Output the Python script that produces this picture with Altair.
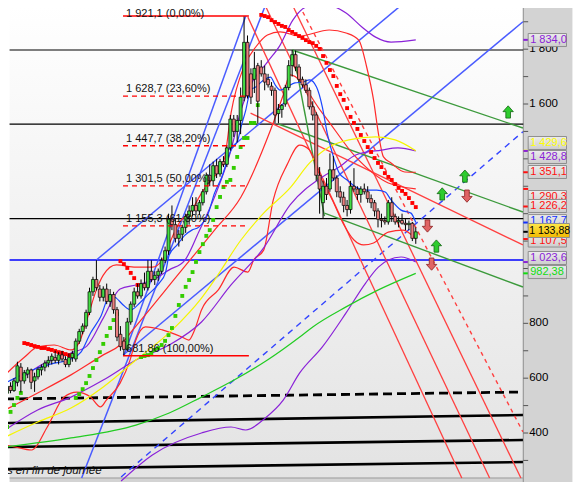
import altair as alt
import pandas as pd

# ---------------- candles (weekly index, price) ----------------
opens = [545,570,555,585,640,590,615,630,590,605,630,640,655,665,675,665,685,668,650,675,
         670,735,770,790,840,915,960,925,895,925,880,905,850,760,735,705,805,870,915,900,
         945,930,990,960,975,990,1030,1065,1180,1160,1110,1125,1150,1190,1210,1230,1210,1240,1280,1340,
         1320,1375,1345,1390,1380,1440,1545,1500,1540,1625,1825,1710,1690,1740,1735,1710,1690,1665,1650,1565,
         1580,1600,1660,1740,1780,1735,1690,1670,1650,1590,1560,1340,1240,1300,1290,1360,1330,1280,1260,1230,
         1215,1300,1290,1270,1290,1280,1255,1240,1210,1180,1175,1170,1240,1190,1170,1175,1165,1160,1165,1110]
highs = [580,585,600,660,655,630,640,635,620,640,650,665,680,690,700,695,700,680,690,700,
         745,780,800,850,930,970,1030,940,935,945,925,915,860,790,750,820,880,930,945,960,
         985,1030,1030,990,1000,1040,1080,1200,1230,1180,1140,1160,1200,1230,1260,1260,1250,1290,1350,1380,
         1390,1400,1400,1410,1450,1560,1560,1560,1660,1921.1,1850,1730,1790,1750,1760,1740,1710,1680,1660,1600,
         1600,1670,1760,1797,1795,1745,1700,1690,1660,1610,1570,1370,1320,1330,1420,1410,1340,1300,1280,1250,
         1320,1366,1300,1300,1310,1300,1270,1250,1220,1200,1190,1250,1260,1200,1190,1200,1180,1175,1170,1150]
lows = [520,545,550,570,548,580,600,560,550,595,610,625,640,650,655,650,660,640,640,660,
        660,725,760,780,830,900,920,880,880,870,860,835,735,700,681.86,700,795,860,890,890,
        920,920,950,940,955,980,1020,1050,1140,1095,1080,1100,1130,1160,1190,1195,1195,1230,1270,1300,
        1300,1330,1335,1370,1370,1430,1480,1460,1490,1610,1620,1600,1640,1530,1700,1650,1660,1630,1530,1530,
        1550,1590,1650,1700,1720,1680,1660,1640,1580,1540,1320,1200,1184,1250,1280,1320,1260,1240,1205,1190,
        1200,1280,1250,1240,1270,1240,1220,1190,1150,1150,1160,1160,1170,1160,1150,1160,1140,1140,1100,1090]
closes = [570,555,590,645,590,620,630,585,605,632,640,655,665,680,665,685,670,650,675,690,
          735,770,790,840,915,960,930,895,925,880,905,850,750,715,705,805,870,915,900,945,
          930,990,960,975,990,1030,1065,1180,1160,1110,1125,1150,1190,1210,1230,1210,1240,1280,1340,1320,
          1375,1345,1390,1380,1440,1545,1500,1540,1625,1825,1630,1625,1730,1610,1710,1680,1670,1650,1560,1580,
          1595,1660,1740,1780,1735,1690,1670,1650,1590,1560,1340,1290,1300,1270,1360,1330,1280,1260,1230,1215,
          1300,1290,1270,1290,1280,1255,1240,1210,1180,1175,1170,1240,1190,1170,1175,1165,1160,1165,1110,1133.88]

# ---------------- parabolic SAR ----------------
sar_green = [(0,422),(1,477),(2,502),(3,528),(4,546),
             (20,528),(21,542),(22,560),(23,582),(24,608),(25,637),(26,666),(27,695),(28,725),(29,754),(30,783),(31,812),(32,834),
             (39,677),(40,681),(41,684),(42,692),(43,703),(44,710),(45,721),(46,736),(47,757),(48,783),(49,827),(50,867),
             (51,900),(52,933),(53,958),(54,987),(55,1024),(56,1060),(57,1089),(58,1119),(59,1140),(60,1177),(61,1224),
             (62,1261),(63,1297),(64,1316),(65,1323),(66,1367),(67,1407),(68,1443),(69,1476),(70,1476),(71,1531),(72,1531),(73,1596)]
sar_red = [(5,728),(6,725),(7,721),(8,717),(9,714),(10,710),(11,710),(12,706),(13,703),(14,699),(15,695),(16,692),(17,688),(18,684),(19,681),
           (33,1027),(34,1016),(35,1002),(36,984),(37,965),(38,940),
           (74,1925),(75,1921),(76,1917),(77,1906),(78,1899),(79,1892),(80,1885),(81,1881),(82,1870),(83,1863),(84,1855),
           (85,1848),(86,1841),(87,1833),(88,1826),(89,1822),(90,1812),(91,1801),(92,1775),(93,1750),(94,1724),(95,1702),
           (96,1666),(97,1636),(98,1615),(99,1585),(100,1553),(101,1531),(102,1509),(103,1487),(104,1465),(105,1443),
           (106,1425),(107,1403),(108,1385),(109,1370),(110,1348),(111,1334),(112,1323),(113,1308),(114,1294),(115,1283),
           (116,1272),(117,1257),(118,1239),(119,1224)]

# ---------------- indicator curves ----------------
blue_ma = [(-0.6,582),(4.3,612),(8.9,637),(12.9,652),(18.6,670),(21.5,695),(24.3,765),(27.2,823),(30.0,903),(31.8,892),
           (33.8,867),(36.0,849),(38.6,874),(40.9,903),(44.3,947),(46.1,984),(47.2,1049),(49.5,1086),(51.8,1122),(53.8,1140),
           (55.8,1151),(58.6,1202),(60.4,1275),(62.4,1330),(65.2,1432),(67.2,1469),(68.1,1516),(69.5,1578),(70.9,1651),
           (72.4,1662),(74.7,1688),(76.7,1698),(78.1,1669),(79.5,1651),(81.5,1662),(83.8,1677),(86.1,1680),(88.1,1688),
           (90.1,1662),(91.8,1589),(93.2,1494),(94.7,1421),(96.7,1348),(99.0,1323),(101.5,1297),(104.4,1286),(107.6,1286),
           (110.1,1279),(111.8,1250),(114.7,1213),(117.6,1202),(119.0,1167.7)]
yellow_ma = [(-0.6,385),(8.9,440),(18.6,491),(28.0,568),(37.5,666),(48.1,776),(56.6,892),(60.4,958),(68.1,1104),
             (74.7,1202),(82.4,1294),(88.1,1385),(93.8,1443),(99.5,1469),(107.3,1480),(113.0,1469),(119.0,1429.6)]
green_ma = [(-0.6,349),(18.6,382),(37.5,429),(47.2,473),(56.6,531),(66.1,593),(75.8,666),(85.2,750),(89.0,787),
            (98.7,860),(108.1,922),(119.0,982.38)]
purple_up = [(-0.6,550),(8.9,641),(18.6,692),(23.2,717),(28.0,819),(32.9,925),(37.5,940),(42.3,958),(47.2,995),
             (51.8,1031),(55.8,1133),(60.4,1261),(65.2,1432),(68.1,1578),(70.9,1669),(75.8,1753),(79.5,1815),(83.2,1906),
             (87.2,1954),(93.0,1961),(98.7,1932),(103.3,1881),(107.3,1844),(111.8,1826),(119.0,1834.0)]
purple_mid = [(-0.6,411),(8.9,484),(18.6,531),(28.0,593),(37.5,666),(47.2,721),(56.6,805),(65.2,940),(74.7,1075),
              (82.4,1232),(91.8,1334),(96.7,1370),(101.5,1414),(109.0,1432),(113.8,1440),(119.0,1428.8)]
purple_low = [(33.2,225),(42.3,320),(56.6,400),(65.2,422),(69.5,411),(75.2,455),(80.4,520),(85.2,619),(91.8,714),
              (98.7,838),(104.4,947),(108.1,1005),(111.0,1031),(114.7,1042),(119.0,1023.6)]
red_up = [(-0.6,612),(5.1,677),(8.9,714),(13.7,721),(18.6,703),(20.9,728),(23.2,812),(26.0,922),(28.0,976),(31.8,1013),
          (37.5,1005),(42.3,1005),(45.2,1031),(48.1,1115),(50.1,1166),(53.8,1213),(56.6,1275),(59.5,1323),(63.2,1396),
          (65.2,1567),(68.9,1735),(72.4,1808),(75.8,1852),(79.5,1863),(85.2,1848),(93.8,1870),(98.7,1859),(102.4,1833),
          (104.7,1735),(106.7,1615),(108.1,1494),(109.6,1407),(111.8,1385),(115.8,1352),(119.0,1351.1)]
red_mid = [(-0.6,484),(8.9,546),(18.6,612),(28.0,685),(32.9,721),(36.6,776),(50.9,995),(60.4,1140),(68.1,1261),
           (76.7,1505),(80.4,1633),(82.4,1706),(91.8,1567),(101.5,1407),(111.0,1312),(119.0,1290.3)]
red_low = [(-0.6,356),(2.3,349),(7.1,338),(11.7,422),(16.6,531),(20.3,549),(24.3,531),(27.2,495),(28.9,520),(32.9,582),
           (35.8,666),(37.5,739),(40.3,787),(45.2,776),(50.9,750),(52.9,739),(54.6,776),(56.6,849),(61.5,922),(66.1,1005),
           (70.1,987),(71.8,1031),(74.7,1067),(77.5,1250),(81.5,1378),(85.2,1450),(88.1,1432),(91.0,1341),(94.7,1250),
           (98.1,1159),(101.0,1104),(103.8,1086),(106.7,1093),(111.0,1133),(115.3,1140),(119.0,1107.5)]

# ---------------- drawn lines (index1, price1, index2, price2) ----------------
black_levels = [1797, 1527, 1182]
blue_level = 1031
black_thick = [(-0.6,436.5,150.2,465.7),(-0.6,349,150.2,374.5),(-0.6,268.7,150.2,294.2)]
black_dashed = [(-0.6,524,150.2,549.5)]
blue_lines = [(21.7,236,75.8,1979),(34.0,681.86,69.5,1921.1),(33.8,684.5,150.2,1900),(26.0,1031,117.6,1990)]
blue_dashed = [(33.2,239.6,150.2,1499)]
red_lines = [(70.1,1917,132.4,236),(74.4,1979,140.5,236),(82.4,1979,149.6,236),(70.9,1567,150.2,1086)]
red_dashed = [(86.1,1935.6,150.2,404)]
green_lines = [(83.0,1797,150.2,1512.5),(79.0,1527,150.2,1206),(92.4,1202,150.2,932.5),(83.2,1797,92.4,1191.5)]

# ---------------- Fibonacci retracement ----------------
fib_levels = [1921.1, 1628.7, 1447.7, 1301.5, 1155.3, 681.86]
fib_labels = ["1 921,1 (0,00%)", "1 628,7 (23,60%)", "1 447,7 (38,20%)", "1 301,5 (50,00%)",
              "1 155,3 (61,80%)", "681,86 (100,00%)"]
fib_start, fib_end = 33.75, 70.4

# ---------------- signal arrows ----------------
arrows_up = [(145.9,1571),(133.3,1337),(126.7,1272),(125.0,1082)]
arrows_down = [(133.9,1264),(122.4,1155),(123.6,1016)]

# ---------------- right scale ----------------
tick_values = [300,400,500,600,700,800,900,1000,1100,1200,1300,1400,1500,1600,1700,1800,1900]
tick_labels = {400:"400",600:"600",800:"800",1600:"1 600",1800:"1 800"}
box_texts = ["1 834,0","1 429,6","1 428,8","1 351,1","1 290,3","1 226,2","1 167,7","1 107,5","1 023,6","982,38"]
box_values = [1834.0,1429.6,1428.8,1351.1,1290.3,1226.2,1167.7,1107.5,1023.6,982.38]
box_centers = [1833.4,1457.8,1406.7,1352.0,1260.8,1228.0,1173.0,1102.0,1038.3,987.0]
box_colors = ["#8a22d8","#ffff00","#8a22d8","#ff1010","#ff1010","#ff1010","#1030ff","#ff1010","#8a22d8","#10dd10"]
last_text, last_value, last_center = "1 133,88", 1133.88, 1138.6

# ---------------- geometry of the frame ----------------
W, H = 566, 474
X_MIN = 1.716
X_MAX = X_MIN + W / 3.496
Y_MIN, Y_MAX = 221.3, 1950.2
PLOT_RIGHT = 150.3
PLOT_BOTTOM = 235.9
PX = (X_MAX - X_MIN) / W   # index units per pixel
PY = (Y_MAX - Y_MIN) / H   # price units per pixel

xs = alt.Scale(domain=[X_MIN, X_MAX], nice=False, zero=False)
ys = alt.Scale(domain=[Y_MIN, Y_MAX], nice=False, zero=False)
X = lambda f: alt.X(f, type="quantitative", scale=xs, axis=None)
Y = lambda f: alt.Y(f, type="quantitative", scale=ys, axis=None)

layers = []

# background
bg = pd.DataFrame([{"x": X_MIN - 1, "x2": PLOT_RIGHT, "y": PLOT_BOTTOM, "y2": Y_MAX + 10}])
layers.append(alt.Chart(bg).mark_rect(fill=alt.Gradient(gradient="linear",
        stops=[alt.GradientStop(color="#ffffff", offset=0), alt.GradientStop(color="#e3e3e3", offset=1)],
        x1=0, x2=0, y1=0, y2=1)).encode(x=X("x"), x2="x2", y=Y("y"), y2="y2"))
panel = pd.DataFrame([{"x": PLOT_RIGHT, "x2": X_MAX + 1, "y": Y_MIN - 10, "y2": Y_MAX + 10},
                      {"x": X_MIN - 1, "x2": PLOT_RIGHT, "y": Y_MIN - 10, "y2": PLOT_BOTTOM}])
layers.append(alt.Chart(panel).mark_rect(fill="#d3d3d3").encode(x=X("x"), x2="x2", y=Y("y"), y2="y2"))
edge = pd.DataFrame([{"x": PLOT_RIGHT, "y": Y_MIN - 10, "y2": Y_MAX + 10}])
layers.append(alt.Chart(edge).mark_rule(color="#8c8c8c", strokeWidth=1).encode(x=X("x"), y=Y("y"), y2="y2"))
edge2 = pd.DataFrame([{"x": X_MIN - 1, "x2": PLOT_RIGHT, "y": PLOT_BOTTOM}])
layers.append(alt.Chart(edge2).mark_rule(color="#9a9a9a", strokeWidth=1).encode(x=X("x"), x2="x2", y=Y("y")))


def seg_df(segs):
    return pd.DataFrame([{"x": a, "y": b, "x2": c, "y2": d} for a, b, c, d in segs])


def seg_layer(segs, color, width, dash=None):
    kw = dict(color=color, strokeWidth=width, clip=True)
    if dash:
        kw["strokeDash"] = dash
    return alt.Chart(seg_df(segs)).mark_rule(**kw).encode(x=X("x"), y=Y("y"), x2="x2", y2="y2")


hsegs = [(X_MIN - 1, v, PLOT_RIGHT, v) for v in black_levels]
layers.append(seg_layer(hsegs, "#000000", 1.2))
layers.append(seg_layer([(X_MIN - 1, blue_level, PLOT_RIGHT, blue_level)], "#0000ff", 1.3))
layers.append(seg_layer(black_thick, "#000000", 2.6))
layers.append(seg_layer(black_dashed, "#000000", 2.8, [9, 5]))
layers.append(seg_layer(blue_lines, "#4a5cff", 1.5))
layers.append(seg_layer(blue_dashed, "#3344ff", 1.4, [6, 5]))
layers.append(seg_layer(red_lines, "#ff4040", 1.3))
layers.append(seg_layer(red_dashed, "#ff4040", 1.4, [4, 4]))
layers.append(seg_layer(green_lines, "#3c9a3c", 1.4))

# indicator curves
curves = [("red_low", red_low, "#ff2a2a"), ("red_mid", red_mid, "#ff2a2a"), ("red_up", red_up, "#ff2a2a"),
          ("purple_low", purple_low, "#8a22d8"), ("purple_mid", purple_mid, "#8a22d8"), ("purple_up", purple_up, "#8a22d8"),
          ("green_ma", green_ma, "#22cc22"), ("yellow_ma", yellow_ma, "#f5f500"), ("blue_ma", blue_ma, "#1a46ff")]
rows = []
for name, pts, col in curves:
    for k, (i, p) in enumerate(pts):
        rows.append({"name": name, "i": i, "p": p, "col": col, "k": k})
cdf = pd.DataFrame(rows)
layers.append(alt.Chart(cdf).mark_line(interpolate="monotone", strokeWidth=1.2, clip=True).encode(
    x=X("i"), y=Y("p"), detail="name:N", order="k:Q", color=alt.Color("col:N", scale=None)))

# parabolic SAR
sar = pd.DataFrame([{"i": i, "p": p, "col": "#33cc00"} for i, p in sar_green] +
                   [{"i": i, "p": p, "col": "#ff0000"} for i, p in sar_red])
layers.append(alt.Chart(sar).mark_square(size=15, opacity=1, clip=True).encode(
    x=X("i"), y=Y("p"), color=alt.Color("col:N", scale=None)))

# candles
cd = pd.DataFrame({"i": list(range(len(closes))), "o": opens, "h": highs, "l": lows, "c": closes})
cd["col"] = ["#44dd44" if c >= o else "#ec7f7f" for o, c in zip(opens, closes)]
layers.append(alt.Chart(cd).mark_rule(color="#000000", strokeWidth=1, clip=True).encode(
    x=X("i"), y=Y("l"), y2="h"))
layers.append(alt.Chart(cd).mark_bar(size=3, stroke="#000000", strokeWidth=0.7, clip=True, orient="vertical").encode(
    x=X("i"), y=Y("o"), y2="c", fill=alt.Color("col:N", scale=None)))

# Fibonacci
fib = pd.DataFrame({"x": [fib_start] * 6, "x2": [fib_end] * 6, "y": fib_levels, "label": fib_labels,
                    "solid": [True, False, False, False, False, True]})
layers.append(alt.Chart(fib[fib.solid]).mark_rule(color="#ff0000", strokeWidth=1.3).encode(
    x=X("x"), x2="x2", y=Y("y")))
layers.append(alt.Chart(fib[~fib.solid]).mark_rule(color="#ff0000", strokeWidth=1.3, strokeDash=[5, 4]).encode(
    x=X("x"), x2="x2", y=Y("y")))
layers.append(alt.Chart(fib.iloc[1:]).mark_text(align="left", baseline="bottom", dx=3, dy=-2, font="Liberation Sans",
                                                fontSize=11, color="#111111").encode(x=X("x"), y=Y("y"), text="label:N"))
# top label sits against the upper edge of the frame
layers.append(alt.Chart(fib.iloc[:1]).mark_text(align="left", baseline="top", dx=3, dy=-7.5, font="Liberation Sans",
                                                fontSize=11, color="#111111").encode(x=X("x"), y=Y("y"), text="label:N"))

# arrows
up_path = "M0,-1 L0.85,-0.05 L0.38,-0.05 L0.38,1 L-0.38,1 L-0.38,-0.05 L-0.85,-0.05 Z"
down_path = "M0,1 L0.85,0.05 L0.38,0.05 L0.38,-1 L-0.38,-1 L-0.38,0.05 L-0.85,0.05 Z"
layers.append(alt.Chart(pd.DataFrame(arrows_up, columns=["i", "p"])).mark_point(
    shape=up_path, size=150, filled=True, fill="#2ecc2e", stroke="#116611", strokeWidth=0.8, opacity=1).encode(
    x=X("i"), y=Y("p")))
layers.append(alt.Chart(pd.DataFrame(arrows_down, columns=["i", "p"])).mark_point(
    shape=down_path, size=150, filled=True, fill="#e06464", stroke="#8a2020", strokeWidth=0.8, opacity=1).encode(
    x=X("i"), y=Y("p")))

# right scale ticks and labels
tk = pd.DataFrame({"y": tick_values})
tk["x"] = PLOT_RIGHT
tk["x2"] = PLOT_RIGHT + 5 * PX
layers.append(alt.Chart(tk).mark_rule(color="#555555", strokeWidth=1).encode(x=X("x"), x2="x2", y=Y("y")))
tl = pd.DataFrame({"y": list(tick_labels.keys()), "t": list(tick_labels.values())})
tl["x"] = PLOT_RIGHT + 6 * PX
layers.append(alt.Chart(tl).mark_text(align="left", baseline="middle", font="Liberation Sans", fontSize=11.5,
                                      color="#000000").encode(x=X("x"), y=Y("y"), text="t:N"))

# value boxes
bx = pd.DataFrame({"t": box_texts, "v": box_values, "c": box_centers, "col": box_colors})
bx["x"] = PLOT_RIGHT + 5 * PX
bx["x2"] = PLOT_RIGHT + 44 * PX
bx["y"] = bx["c"] - 6.5 * PY
bx["y2"] = bx["c"] + 6.5 * PY
bx["tx"] = PLOT_RIGHT
bx["tx2"] = PLOT_RIGHT + 5 * PX
box_fill = alt.Gradient(gradient="linear", stops=[alt.GradientStop(color="#ececec", offset=0),
                                                   alt.GradientStop(color="#cdcdcd", offset=1)],
                        x1=0, x2=0, y1=0, y2=1)
for k in range(len(bx)):
    row = bx.iloc[[k]]
    layers.append(alt.Chart(row).mark_rule(strokeWidth=2).encode(
        x=X("tx"), x2="tx2", y=Y("v"), color=alt.Color("col:N", scale=None)))
    layers.append(alt.Chart(row).mark_rect(fill=box_fill, stroke="#8f8f8f", strokeWidth=1).encode(
        x=X("x"), x2="x2", y=Y("y"), y2="y2"))
    layers.append(alt.Chart(row).mark_text(align="left", baseline="middle", dx=2, font="Liberation Sans",
                                           fontSize=11).encode(x=X("x"), y=Y("c"), text="t:N",
                                                               color=alt.Color("col:N", scale=None)))
lb = pd.DataFrame([{"t": last_text, "v": last_value, "c": last_center,
                    "x": PLOT_RIGHT + 5 * PX, "x2": PLOT_RIGHT + 47 * PX,
                    "y": last_center - 7 * PY, "y2": last_center + 7 * PY,
                    "tx": PLOT_RIGHT, "tx2": PLOT_RIGHT + 5 * PX}])
layers.append(alt.Chart(lb).mark_rule(strokeWidth=2, color="#000000").encode(x=X("tx"), x2="tx2", y=Y("v")))
layers.append(alt.Chart(lb).mark_rect(fill=alt.Gradient(gradient="linear", stops=[
    alt.GradientStop(color="#ffe84a", offset=0), alt.GradientStop(color="#f2b800", offset=1)],
    x1=0, x2=0, y1=0, y2=1), stroke="#8f8f8f", strokeWidth=1).encode(x=X("x"), x2="x2", y=Y("y"), y2="y2"))
layers.append(alt.Chart(lb).mark_text(align="left", baseline="middle", dx=1, font="Liberation Sans", fontSize=10.5,
                                      color="#000000").encode(x=X("x"), y=Y("c"), text="t:N"))

# footer text
ft = pd.DataFrame([{"x": 27.5, "y": 262.0, "t": "Données en fin de journée"}])
layers.append(alt.Chart(ft).mark_text(align="right", baseline="middle", font="Liberation Sans", fontSize=11.5,
                                      fontStyle="italic", color="#111111").encode(x=X("x"), y=Y("y"), text="t:N"))

chart = alt.layer(*layers).properties(
    width=W, height=H, padding=0, autosize=alt.AutoSizeParams(type="none")
).configure_view(stroke=None)

chart.save("out.html", embed_options={"renderer": "svg", "actions": False})
